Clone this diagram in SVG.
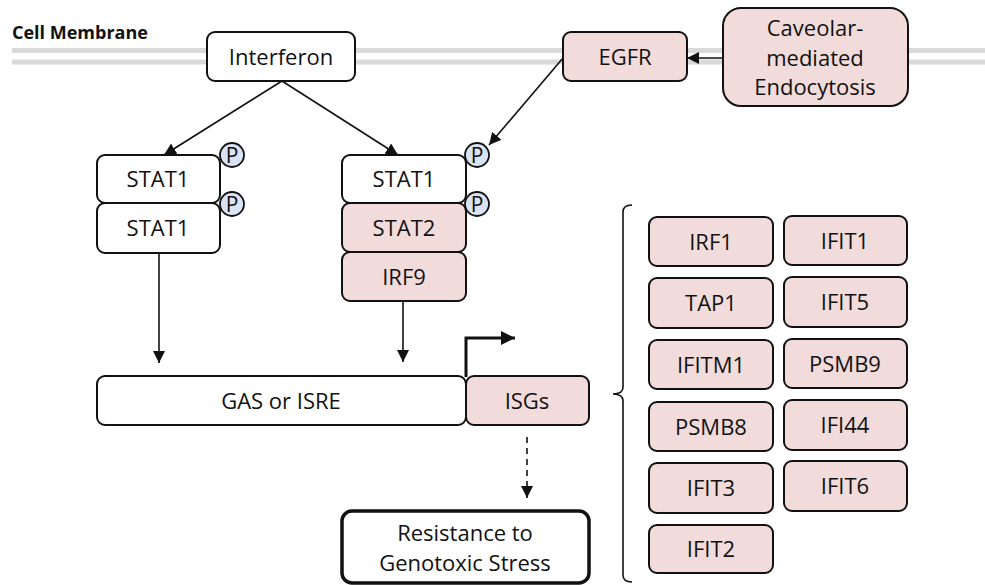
<svg xmlns="http://www.w3.org/2000/svg" width="985" height="585" viewBox="0 0 985 585">
<style>
.box{fill:#ffffff;stroke:#111;stroke-width:2}
.pink{fill:#f2dcdb;stroke:#111;stroke-width:2}
.t{font-family:"Open Sans","Liberation Sans",sans-serif;font-size:22px;fill:#111;text-anchor:middle}
.p{fill:#dae3f3;stroke:#111;stroke-width:1.8}
.pt{font-family:"Open Sans","Liberation Sans",sans-serif;font-size:21px;fill:#111;text-anchor:middle}
.mem{stroke:#d9d9d9;stroke-width:5;fill:none}
.c{stroke:#111;stroke-width:1.6;fill:none}
</style>
<defs>
<marker id="ah" viewBox="0 0 10 10" refX="10" refY="5" markerWidth="12" markerHeight="12" markerUnits="userSpaceOnUse" orient="auto">
<path d="M0,0 L10,5 L0,10 Z" fill="#111"/>
</marker>
<marker id="ahb" viewBox="0 0 10 10" refX="10" refY="5" markerWidth="14" markerHeight="14" markerUnits="userSpaceOnUse" orient="auto">
<path d="M0,0 L10,5 L0,10 Z" fill="#111"/>
</marker>
</defs>
<rect width="985" height="585" fill="#ffffff"/>
<g id="membrane">
<line class="mem" x1="12" y1="50.5" x2="985" y2="50.5"/>
<line class="mem" x1="12" y1="62" x2="985" y2="62"/>
<text x="12" y="39" font-family="'Open Sans','Liberation Sans',sans-serif" font-size="18" font-weight="bold" fill="#111">Cell Membrane</text>
</g>
<g id="connectors">
<line class="c" x1="282" y1="81" x2="164" y2="155" marker-end="url(#ah)"/>
<line class="c" x1="282" y1="81" x2="398" y2="155" marker-end="url(#ah)"/>
<line class="c" x1="563" y1="58" x2="489" y2="145" marker-end="url(#ah)"/>
<line class="c" x1="723" y1="58" x2="687" y2="58" marker-end="url(#ah)"/>
<line class="c" x1="159" y1="253" x2="159" y2="363" marker-end="url(#ah)"/>
<line class="c" x1="403" y1="301" x2="403" y2="362" marker-end="url(#ah)"/>
<path d="M466,377 L466,338 L515,338" stroke="#111" stroke-width="3" fill="none" marker-end="url(#ahb)"/>
<line x1="527" y1="437" x2="527" y2="498" stroke="#111" stroke-width="1.6" stroke-dasharray="6,5" marker-end="url(#ah)"/>
<path class="c" d="M632,205 Q623,205 623,212 L623,387 Q623,394 613,394 Q623,394 623,401 L623,575 Q623,582 632,582"/>
</g>
<g id="interferon"><rect class="box" x="207" y="32" width="148" height="49" rx="8"/><text class="t" x="281" y="65">Interferon</text></g>
<g id="egfr"><rect class="pink" x="563" y="32" width="124" height="49" rx="8"/><text class="t" x="625" y="65">EGFR</text></g>
<g id="caveolar"><rect class="pink" x="723" y="8" width="185" height="98" rx="18"/><text class="t" x="815" y="36">Caveolar-</text><text class="t" x="815" y="66">mediated</text><text class="t" x="815" y="95">Endocytosis</text></g>
<g id="stat1-left-a"><rect class="box" x="97" y="155" width="123" height="48" rx="8"/><text class="t" x="158" y="187">STAT1</text></g>
<g id="stat1-left-b"><rect class="box" x="97" y="203" width="123" height="50" rx="8"/><text class="t" x="158" y="236">STAT1</text></g>
<g id="p1"><circle class="p" cx="232" cy="155" r="12"/><text class="pt" x="232" y="162.5">P</text></g>
<g id="p2"><circle class="p" cx="232" cy="204" r="12"/><text class="pt" x="232" y="211.5">P</text></g>
<g id="stat1-right"><rect class="box" x="342" y="155" width="124" height="48" rx="8"/><text class="t" x="404" y="187">STAT1</text></g>
<g id="stat2"><rect class="pink" x="342" y="203" width="124" height="49" rx="8"/><text class="t" x="404" y="236">STAT2</text></g>
<g id="irf9"><rect class="pink" x="342" y="252" width="124" height="49" rx="8"/><text class="t" x="404" y="285">IRF9</text></g>
<g id="p3"><circle class="p" cx="477" cy="155" r="12"/><text class="pt" x="477" y="162.5">P</text></g>
<g id="p4"><circle class="p" cx="477" cy="204" r="12"/><text class="pt" x="477" y="211.5">P</text></g>
<g id="gas"><rect class="box" x="97" y="376" width="369" height="49" rx="8"/><text class="t" x="281" y="409">GAS or ISRE</text></g>
<g id="isgs"><rect class="pink" x="466" y="376" width="123" height="49" rx="8"/><text class="t" x="527" y="409">ISGs</text></g>
<g id="resistance"><rect x="342" y="511" width="247" height="72" rx="10" fill="#ffffff" stroke="#111" stroke-width="3.5"/><text class="t" x="465" y="541">Resistance to</text><text class="t" x="465" y="571">Genotoxic Stress</text></g>
<g id="irf1"><rect class="pink" x="649" y="217" width="124" height="49" rx="8"/><text class="t" x="711" y="250">IRF1</text></g>
<g id="tap1"><rect class="pink" x="649" y="278" width="124" height="50" rx="8"/><text class="t" x="711" y="311">TAP1</text></g>
<g id="ifitm1"><rect class="pink" x="649" y="340" width="124" height="49" rx="8"/><text class="t" x="711" y="373">IFITM1</text></g>
<g id="psmb8"><rect class="pink" x="649" y="402" width="124" height="49" rx="8"/><text class="t" x="711" y="435">PSMB8</text></g>
<g id="ifit3"><rect class="pink" x="649" y="463" width="124" height="50" rx="8"/><text class="t" x="711" y="496">IFIT3</text></g>
<g id="ifit2"><rect class="pink" x="649" y="525" width="124" height="48" rx="8"/><text class="t" x="711" y="557">IFIT2</text></g>
<g id="ifit1"><rect class="pink" x="784" y="216" width="123" height="49" rx="8"/><text class="t" x="845" y="249">IFIT1</text></g>
<g id="ifit5"><rect class="pink" x="784" y="277" width="123" height="50" rx="8"/><text class="t" x="845" y="310">IFIT5</text></g>
<g id="psmb9"><rect class="pink" x="784" y="339" width="123" height="49" rx="8"/><text class="t" x="845" y="372">PSMB9</text></g>
<g id="ifi44"><rect class="pink" x="784" y="400" width="123" height="50" rx="8"/><text class="t" x="845" y="433">IFI44</text></g>
<g id="ifit6"><rect class="pink" x="784" y="461" width="123" height="50" rx="8"/><text class="t" x="845" y="494">IFIT6</text></g>
</svg>
